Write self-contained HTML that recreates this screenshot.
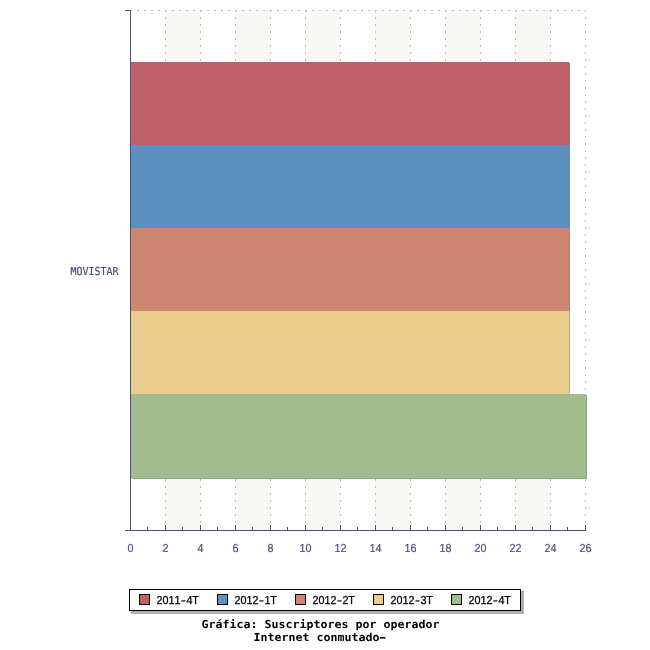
<!DOCTYPE html>
<html lang="es">
<head>
<meta charset="utf-8">
<title>Gráfica: Suscriptores por operador</title>
<style>
html,body{margin:0;padding:0;background:#fff;}
body{width:650px;height:650px;position:relative;overflow:hidden;}
text{font-family:"DejaVu Sans Mono","Liberation Mono",monospace;font-size:11px;white-space:pre;}
.sans{font-family:"Liberation Sans","DejaVu Sans",sans-serif;font-size:11.6px;}
.ax{fill:#47507c;stroke:#47507c;stroke-width:0.2px;}
.lg{fill:#000;stroke:#000;stroke-width:0.3px;}
.ti{fill:#000;font-weight:bold;}
</style>
</head>
<body>
<svg width="650" height="650" viewBox="0 0 650 650" shape-rendering="crispEdges" style="position:absolute;left:0;top:0">
<rect x="0" y="0" width="650" height="650" fill="#ffffff"/>
<rect x="165" y="10" width="35" height="520" fill="#f7f7f3"/>
<rect x="235" y="10" width="35" height="520" fill="#f7f7f3"/>
<rect x="305" y="10" width="35" height="520" fill="#f7f7f3"/>
<rect x="375" y="10" width="35" height="520" fill="#f7f7f3"/>
<rect x="445" y="10" width="35" height="520" fill="#f7f7f3"/>
<rect x="515" y="10" width="35" height="520" fill="#f7f7f3"/>
<line x1="165.5" y1="10" x2="165.5" y2="530" stroke="#bbbbbb" stroke-width="1" stroke-dasharray="2 5"/>
<line x1="200.5" y1="10" x2="200.5" y2="530" stroke="#bbbbbb" stroke-width="1" stroke-dasharray="2 5"/>
<line x1="235.5" y1="10" x2="235.5" y2="530" stroke="#bbbbbb" stroke-width="1" stroke-dasharray="2 5"/>
<line x1="270.5" y1="10" x2="270.5" y2="530" stroke="#bbbbbb" stroke-width="1" stroke-dasharray="2 5"/>
<line x1="305.5" y1="10" x2="305.5" y2="530" stroke="#bbbbbb" stroke-width="1" stroke-dasharray="2 5"/>
<line x1="340.5" y1="10" x2="340.5" y2="530" stroke="#bbbbbb" stroke-width="1" stroke-dasharray="2 5"/>
<line x1="375.5" y1="10" x2="375.5" y2="530" stroke="#bbbbbb" stroke-width="1" stroke-dasharray="2 5"/>
<line x1="410.5" y1="10" x2="410.5" y2="530" stroke="#bbbbbb" stroke-width="1" stroke-dasharray="2 5"/>
<line x1="445.5" y1="10" x2="445.5" y2="530" stroke="#bbbbbb" stroke-width="1" stroke-dasharray="2 5"/>
<line x1="480.5" y1="10" x2="480.5" y2="530" stroke="#bbbbbb" stroke-width="1" stroke-dasharray="2 5"/>
<line x1="515.5" y1="10" x2="515.5" y2="530" stroke="#bbbbbb" stroke-width="1" stroke-dasharray="2 5"/>
<line x1="550.5" y1="10" x2="550.5" y2="530" stroke="#bbbbbb" stroke-width="1" stroke-dasharray="2 5"/>
<line x1="585.5" y1="10" x2="585.5" y2="530" stroke="#bbbbbb" stroke-width="1" stroke-dasharray="2 5"/>
<line x1="130" y1="10.5" x2="586" y2="10.5" stroke="#bbbbbb" stroke-width="1" stroke-dasharray="2 5"/>
<rect x="132" y="63" width="438" height="83" fill="#a56d73"/>
<rect x="131" y="62" width="438" height="83" fill="#be606a"/>
<rect x="132" y="146" width="438" height="83" fill="#6a89a6"/>
<rect x="131" y="145" width="438" height="83" fill="#5c90bf"/>
<rect x="132" y="229" width="438" height="83" fill="#af8376"/>
<rect x="131" y="228" width="438" height="83" fill="#cf8670"/>
<rect x="132" y="312" width="438" height="83" fill="#bfad87"/>
<rect x="131" y="311" width="438" height="83" fill="#eacc8c"/>
<rect x="132" y="395" width="455" height="84" fill="#95a488"/>
<rect x="131" y="394" width="455" height="84" fill="#a3bc8d"/>
<rect x="130" y="10" width="1" height="521" fill="#47507c"/>
<rect x="125" y="530" width="461" height="1" fill="#47507c"/>
<rect x="125" y="10" width="6" height="1" fill="#47507c"/>
<rect x="130" y="525" width="1" height="5" fill="#47507c"/>
<rect x="147" y="527" width="1" height="3" fill="#47507c"/>
<rect x="165" y="525" width="1" height="5" fill="#47507c"/>
<rect x="182" y="527" width="1" height="3" fill="#47507c"/>
<rect x="200" y="525" width="1" height="5" fill="#47507c"/>
<rect x="217" y="527" width="1" height="3" fill="#47507c"/>
<rect x="235" y="525" width="1" height="5" fill="#47507c"/>
<rect x="252" y="527" width="1" height="3" fill="#47507c"/>
<rect x="270" y="525" width="1" height="5" fill="#47507c"/>
<rect x="287" y="527" width="1" height="3" fill="#47507c"/>
<rect x="305" y="525" width="1" height="5" fill="#47507c"/>
<rect x="322" y="527" width="1" height="3" fill="#47507c"/>
<rect x="340" y="525" width="1" height="5" fill="#47507c"/>
<rect x="357" y="527" width="1" height="3" fill="#47507c"/>
<rect x="375" y="525" width="1" height="5" fill="#47507c"/>
<rect x="392" y="527" width="1" height="3" fill="#47507c"/>
<rect x="410" y="525" width="1" height="5" fill="#47507c"/>
<rect x="427" y="527" width="1" height="3" fill="#47507c"/>
<rect x="445" y="525" width="1" height="5" fill="#47507c"/>
<rect x="462" y="527" width="1" height="3" fill="#47507c"/>
<rect x="480" y="525" width="1" height="5" fill="#47507c"/>
<rect x="497" y="527" width="1" height="3" fill="#47507c"/>
<rect x="515" y="525" width="1" height="5" fill="#47507c"/>
<rect x="532" y="527" width="1" height="3" fill="#47507c"/>
<rect x="550" y="525" width="1" height="5" fill="#47507c"/>
<rect x="567" y="527" width="1" height="3" fill="#47507c"/>
<rect x="585" y="525" width="1" height="5" fill="#47507c"/>
<rect x="131" y="591" width="393" height="23" fill="#b0b0b0"/>
<rect x="129.5" y="589.5" width="391" height="21" fill="#ffffff" stroke="#000000" stroke-width="1"/>
<rect x="139.5" y="594.5" width="10" height="10" fill="#be606a" stroke="#000000" stroke-width="1"/>
<rect x="217.5" y="594.5" width="10" height="10" fill="#5c90bf" stroke="#000000" stroke-width="1"/>
<rect x="295.5" y="594.5" width="10" height="10" fill="#cf8670" stroke="#000000" stroke-width="1"/>
<rect x="373.5" y="594.5" width="10" height="10" fill="#eacc8c" stroke="#000000" stroke-width="1"/>
<rect x="451.5" y="594.5" width="10" height="10" fill="#a3bc8d" stroke="#000000" stroke-width="1"/>
<g shape-rendering="auto" text-rendering="geometricPrecision"><text class="ax sans" text-anchor="middle" transform="translate(127.5,552) scale(0.9300,1)" x="3.23" y="0">0</text>
<text class="ax sans" text-anchor="middle" transform="translate(162.5,552) scale(0.9300,1)" x="3.23" y="0">2</text>
<text class="ax sans" text-anchor="middle" transform="translate(197.5,552) scale(0.9300,1)" x="3.23" y="0">4</text>
<text class="ax sans" text-anchor="middle" transform="translate(232.5,552) scale(0.9300,1)" x="3.23" y="0">6</text>
<text class="ax sans" text-anchor="middle" transform="translate(267.5,552) scale(0.9300,1)" x="3.23" y="0">8</text>
<text class="ax sans" text-anchor="middle" transform="translate(299.5,552) scale(0.9300,1)" x="3.23 9.68" y="0">10</text>
<text class="ax sans" text-anchor="middle" transform="translate(334.5,552) scale(0.9300,1)" x="3.23 9.68" y="0">12</text>
<text class="ax sans" text-anchor="middle" transform="translate(369.5,552) scale(0.9300,1)" x="3.23 9.68" y="0">14</text>
<text class="ax sans" text-anchor="middle" transform="translate(404.5,552) scale(0.9300,1)" x="3.23 9.68" y="0">16</text>
<text class="ax sans" text-anchor="middle" transform="translate(439.5,552) scale(0.9300,1)" x="3.23 9.68" y="0">18</text>
<text class="ax sans" text-anchor="middle" transform="translate(474.5,552) scale(0.9300,1)" x="3.23 9.68" y="0">20</text>
<text class="ax sans" text-anchor="middle" transform="translate(509.5,552) scale(0.9300,1)" x="3.23 9.68" y="0">22</text>
<text class="ax sans" text-anchor="middle" transform="translate(544.5,552) scale(0.9300,1)" x="3.23 9.68" y="0">24</text>
<text class="ax sans" text-anchor="middle" transform="translate(579.5,552) scale(0.9300,1)" x="3.23 9.68" y="0">26</text>
<text class="ax" transform="translate(70.5,275) scale(0.9060,1)" x="0" y="0">MOVISTAR</text>
<text class="lg sans" text-anchor="middle" transform="translate(156.5,604) scale(0.9300,1)" x="3.23 9.68 16.13 22.58 29.03 35.48 41.93" y="0">2011<tspan textLength="5.2" lengthAdjust="spacingAndGlyphs">-</tspan>4T</text>
<text class="lg sans" text-anchor="middle" transform="translate(234.5,604) scale(0.9300,1)" x="3.23 9.68 16.13 22.58 29.03 35.48 41.93" y="0">2012<tspan textLength="5.2" lengthAdjust="spacingAndGlyphs">-</tspan>1T</text>
<text class="lg sans" text-anchor="middle" transform="translate(312.5,604) scale(0.9300,1)" x="3.23 9.68 16.13 22.58 29.03 35.48 41.93" y="0">2012<tspan textLength="5.2" lengthAdjust="spacingAndGlyphs">-</tspan>2T</text>
<text class="lg sans" text-anchor="middle" transform="translate(390.5,604) scale(0.9300,1)" x="3.23 9.68 16.13 22.58 29.03 35.48 41.93" y="0">2012<tspan textLength="5.2" lengthAdjust="spacingAndGlyphs">-</tspan>3T</text>
<text class="lg sans" text-anchor="middle" transform="translate(468.5,604) scale(0.9300,1)" x="3.23 9.68 16.13 22.58 29.03 35.48 41.93" y="0">2012<tspan textLength="5.2" lengthAdjust="spacingAndGlyphs">-</tspan>4T</text>
<text class="ti" transform="translate(201.5,628) scale(1.0570,1)" x="0" y="0">Gráfica: Suscriptores por operador</text>
<text class="ti" transform="translate(253.5,641) scale(1.0570,1)" x="0" y="0">Internet conmutado<tspan dx="-2.4" textLength="10.5" lengthAdjust="spacingAndGlyphs">-</tspan></text></g></svg>

</body>
</html>
